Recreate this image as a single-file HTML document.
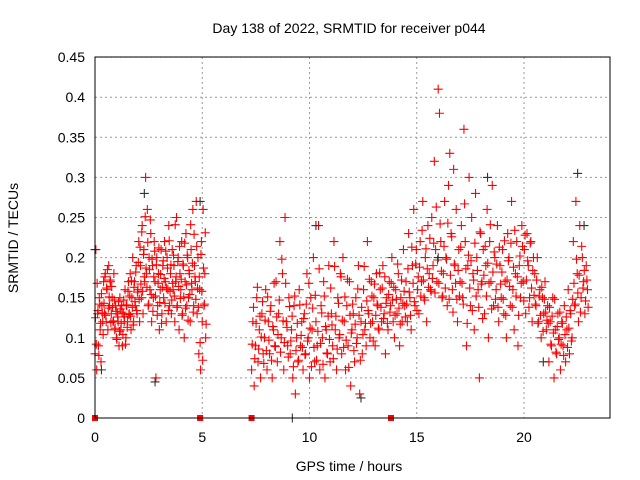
<!DOCTYPE html>
<html><head><meta charset="utf-8"><style>
body{margin:0;background:#fff}
svg{display:block;font-family:"Liberation Sans",sans-serif}
</style></head><body>
<svg id="c" width="640" height="480">
<text x="349" y="33" font-size="14" text-anchor="middle">Day 138 of 2022, SRMTID for receiver p044</text>
<text x="349" y="471" font-size="14" text-anchor="middle">GPS time / hours</text>
<text transform="translate(18,238) rotate(-90)" font-size="14" text-anchor="middle">SRMTID / TECUs</text>
<g id="grid"></g><g id="marks"></g>
<rect x="95" y="57" width="515" height="361" fill="none" stroke="#000" stroke-width="1"/>
</svg>
<script>
const xTicks=[0,5,10,15,20];
const yTicks=[0,0.05,0.1,0.15,0.2,0.25,0.3,0.35,0.4,0.45];
const yTickLabels=["0","0.05","0.1","0.15","0.2","0.25","0.3","0.35","0.4","0.45"];
const segStarts=[0,7.3];
const segSteps=[0.04,0.06];
const segA=[8,21,6,13,9,15,11,7,14,12,17,13,18,12,16,11,19,14,17,13,15,12,18,11,14,10,13,12,9,15,11,14,9,13,12,16,10,14,12,17,13,18,11,15,20,12,17,14,19,13,16,22,12,19,15,24,13,21,17,30,18,26,14,20,16,23,12,19,15,22,17,5,20,14,18,11,16,21,13,19,15,22,17,12,20,16,24,14,18,13,21,16,19,12,17,25,14,20,11,18,16,22,13,19,10,17,23,14,20,15,18,12,21,16,26,14,19,17,27,13,20,8,16,6,22,12,26,14,18,10];
const segB=[6,12,4,9,15,7,11,5,13,8,10,16,6,12,8,14,5,11,9,17,7,13,22,10,18,6,25,12,9,15,8,11,5,14,3,10,7,16,9,12,6,13,8,18,10,5,15,11,20,7,12,9,24,6,14,10,17,5,11,8,19,7,13,9,22,11,6,15,10,18,8,20,12,6,14,9,17,4,11,13,7,15,10,19,3,12,8,16,11,9,22,13,10,17,12,15,9,18,14,11,16,12,19,13,8,15,11,17,14,20,12,10,16,13,18,9,15,12,21,14,17,12,23,15,11,19,26,14,21,16,13,22,17,27,15,20,12,24,18,16,25,19,32,21,17,41,38,22,15,18,27,20,14,29,33,23,16,31,19,26,12,21,17,24,15,36,22,9,19,30,14,25,18,11,28,20,16,5,23,17,21,13,19,26,10,22,17,29,14,20,16,24,12,19,15,21,13,17,10,23,20,14,27,16,11,18,22,9,19,15,24,17,21,13,23,19,15,22,12,20,18,14,20,12,16,10,15,13,17,11,14,7,12,9,15,5,11,8,13,10,6,12,9,14,7,11,16,8,13,10,22,14,27,18,12,24,15,20,17,13,19,16];
const segA2=[125,92,168,134,78,142,118,155,131,104,143,176,128,162,185,137,151,172,119,164,138,121,147,112,133,98,126,145,108,136,118,132,104,147,126,92,141,113,158,129,152,127,171,138,116,163,145,182,134,157,194,148,213,167,232,158,204,176,251,187,163,219,142,185,247,154,198,133,176,208,152,191,128,168,212,144,179,118,163,196,174,143,208,162,187,134,221,158,191,147,168,203,152,241,176,138,195,164,214,149,173,128,192,151,218,137,166,203,122,184,154,241,168,193,132,229,176,148,214,162,138,176,94,204,158,72,187,142,231,117];
const segB2=[92,138,74,118,163,86,127,101,145,68,122,84,151,97,133,72,114,168,89,126,104,147,82,198,121,94,168,113,76,139,96,127,64,152,84,118,72,141,103,88,124,79,142,96,168,112,64,137,88,153,72,108,186,93,131,67,152,114,81,127,98,162,116,74,189,127,86,143,104,176,122,88,151,97,173,63,128,106,142,84,117,93,161,128,72,138,104,189,118,146,134,173,118,152,96,167,128,142,112,181,138,162,124,176,143,118,154,132,168,147,163,128,148,192,137,117,172,143,158,126,142,186,157,128,213,168,145,192,134,176,188,152,234,172,147,211,186,163,224,158,174,218,156,263,197,168,242,183,152,214,162,198,243,148,178,226,132,192,168,148,184,152,213,168,142,267,186,118,203,162,196,134,172,218,152,184,138,232,167,124,178,214,152,193,168,241,136,182,207,148,192,138,213,167,182,148,221,128,172,196,164,218,138,188,234,152,176,128,202,168,214,146,228,172,196,138,218,162,184,153,142,172,118,152,128,163,108,148,132,122,118,138,92,127,106,148,82,114,98,132,92,118,78,104,126,88,112,134,96,148,168,142,198,156,178,132,214,162,184,146,172,138];
const darkTimes=[0,0.3,2.3,2.8,4.9,9.2,10.3,12.4,16.0,18.3,20.9,22.5,22.8];
const darkVals=[0.21,0.06,0.28,0.045,0.27,0,0.24,0.025,0.2,0.3,0.07,0.305,0.24];
const zeroTimes=[0,4.9,7.3,13.8];
const NS="http://www.w3.org/2000/svg";
const X=t=>95+t*21.45, Y=v=>418-v*802;
const grid=document.getElementById('grid'), marks=document.getElementById('marks'), svg=document.getElementById('c');
function mk(tag,a){const e=document.createElementNS(NS,tag);for(const k in a)e.setAttribute(k,a[k]);return e;}
xTicks.forEach(t=>{
 const l=mk('line',{x1:X(t),x2:X(t),y1:57,y2:418,stroke:'#999','stroke-dasharray':'2,3'});
 
 
 grid.appendChild(l);
 const tx=mk('text',{x:X(t),y:442,'font-size':14,'text-anchor':'middle'});tx.textContent=t;
 
 
 svg.appendChild(tx);
});
yTicks.forEach((v,i)=>{
 const l=mk('line',{x1:95,x2:610,y1:Y(v),y2:Y(v),stroke:'#999','stroke-dasharray':'2,3'});
 
 
 grid.appendChild(l);
 const tx=mk('text',{x:85,y:Y(v)+5,'font-size':14,'text-anchor':'end'});tx.textContent=yTickLabels[i];
 
 
 svg.appendChild(tx);
});
function plus(t,v,col){
 const x=X(t),y=Y(v);
 const p=mk('path',{d:`M${x-4.5} ${y}h9M${x} ${y-4.5}v9`,stroke:col,'stroke-width':1.1,fill:'none'});
 
 
 marks.appendChild(p);
}
[segA,segB].forEach((s,k)=>s.forEach((v,i)=>plus(segStarts[k]+i*segSteps[k],v/100,'#f00')));
[segA2,segB2].forEach((s,k)=>s.forEach((v,i)=>plus(segStarts[k]+(i+0.5)*segSteps[k],v/1000,'#f00')));
darkTimes.forEach((t,i)=>plus(t,darkVals[i],'#333'));
zeroTimes.forEach(t=>{
 const r=mk('rect',{x:X(t)-3,y:415,width:6,height:6,fill:'#f00'});
 
 
 marks.appendChild(r);
});
</script>
</body></html>
